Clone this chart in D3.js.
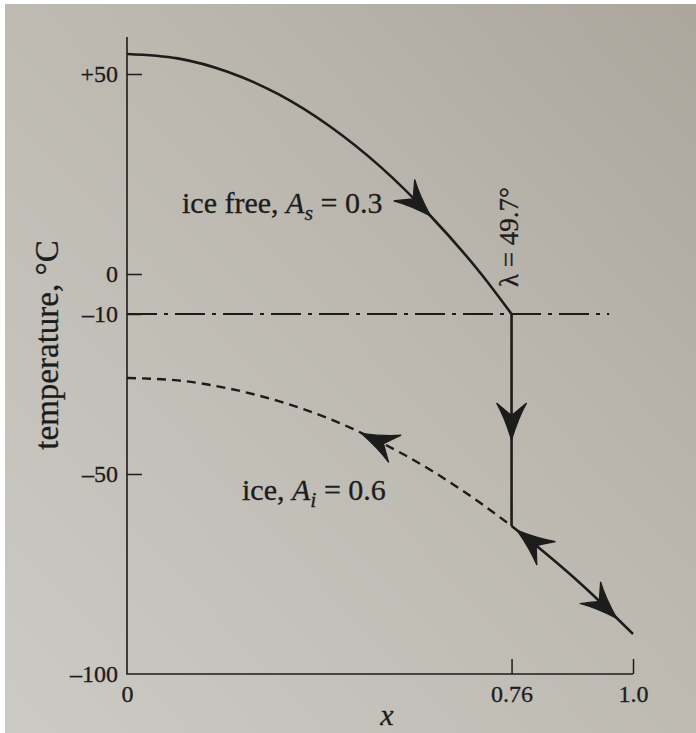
<!DOCTYPE html>
<html>
<head>
<meta charset="utf-8">
<script src="https://cdn.jsdelivr.net/npm/d3@7"></script>
<style>
body{margin:0;padding:0;background:#fff;}
svg text{font-family:"Liberation Serif",serif;fill:#1c1c1c;stroke:#1c1c1c;stroke-width:0.3px;}
</style>
</head>
<body>
<svg id="chart" width="696" height="733"></svg>
<script>
// temperature profiles (x = sin of latitude, T in deg C)
const freeX = [0, 0.1, 0.2, 0.3, 0.4, 0.5, 0.6, 0.7, 0.76];
const freeT = [55, 53.9, 50.5, 44.9, 37, 26.9, 14.5, 0, -10];
const iceX = [0, 0.1, 0.2, 0.3, 0.4, 0.5, 0.6, 0.7, 0.76, 0.8, 0.9, 1.0];
const iceT = [-26, -26.6, -28.6, -31.8, -36.2, -42, -49, -57.4, -63, -67, -77.8, -90];
const iceLineT = -10;
const iceLineEnd = 0.953;
const edgeX = 0.76;
const yTicks = [50, 0, -10, -50, -100];
const xTicks = [0, 0.76, 1.0];
// arrow tips along the curves
const arrowCurve = ['free', 'ice', 'ice', 'ice'];
const arrowX = [0.60, 0.463, 0.771, 0.968];
const arrowDir = [1, -1, -1, 1];
const jumpArrowT = -41.5;

var svg = d3.select('#chart');
var ink = '#1c1c1c';
var serif = '"Liberation Serif", serif';

// paper
var defs = svg.append('defs');
var grad = defs.append('linearGradient').attr('id', 'paper')
    .attr('x1', '100%').attr('y1', '0%').attr('x2', '0%').attr('y2', '100%');
grad.append('stop').attr('offset', '0%').attr('stop-color', '#aca69d');
grad.append('stop').attr('offset', '45%').attr('stop-color', '#bdb9b1');
grad.append('stop').attr('offset', '100%').attr('stop-color', '#cbcac4');
svg.append('rect').attr('x', 5).attr('y', 4).attr('width', 691).attr('height', 729)
    .attr('fill', 'url(#paper)');

var x = d3.scaleLinear().domain([0, 1]).range([127, 633]);
var y = d3.scaleLinear().domain([-100, 50]).range([674, 74]);

function interp(xs, ts, v) {
    var i = d3.bisectRight(xs, v) - 1;
    i = Math.max(0, Math.min(xs.length - 2, i));
    var t = (v - xs[i]) / (xs[i + 1] - xs[i]);
    return ts[i] + t * (ts[i + 1] - ts[i]);
}

// axes
var yAxis = d3.axisLeft(y).tickValues(yTicks).tickSizeInner(-15).tickSizeOuter(0).tickPadding(9)
    .tickFormat(function(d){ return d > 0 ? '+' + d : (d < 0 ? '\u2013' + (-d) : '0'); });
var gy = svg.append('g').attr('transform', 'translate(' + x(0) + ',0)').call(yAxis)
    .attr('font-family', serif);
gy.select('.domain').remove();
gy.selectAll('line').attr('stroke', ink).attr('stroke-width', 1.5)
    .attr('display', function(d){ return d == -100 ? 'none' : null; });
gy.selectAll('text').attr('font-size', 24).attr('fill', ink).style('font-family', serif);

var xAxis = d3.axisBottom(x).tickValues(xTicks).tickSizeInner(-15).tickSizeOuter(0).tickPadding(11)
    .tickFormat(function(d){ return d == 0 ? '0' : (d == 1 ? '1.0' : String(d)); });
var gx = svg.append('g').attr('transform', 'translate(0,' + y(-100) + ')').call(xAxis)
    .attr('font-family', serif);
gx.select('.domain').remove();
gx.selectAll('line').attr('stroke', ink).attr('stroke-width', 1.5)
    .attr('display', function(d){ return d == 0 ? 'none' : null; });
gx.selectAll('text').attr('font-size', 24).attr('fill', ink).style('font-family', serif);

svg.append('path')
    .attr('d', 'M' + x(0) + ',37 L' + x(0) + ',' + y(-100) + ' L' + x(1) + ',' + y(-100))
    .attr('fill', 'none').attr('stroke', ink).attr('stroke-width', 1.6);

// ice line -10
svg.append('line')
    .attr('x1', x(0)).attr('x2', x(iceLineEnd))
    .attr('y1', y(iceLineT)).attr('y2', y(iceLineT))
    .attr('stroke', ink).attr('stroke-width', 2.2)
    .attr('stroke-dasharray', '30 7 4 7');

var line = d3.line().x(function(d){ return x(d[0]); }).y(function(d){ return y(d[1]); })
    .curve(d3.curveMonotoneX);

var freePts = freeX.map(function(v, i){ return [v, freeT[i]]; });
var icePts = iceX.map(function(v, i){ return [v, iceT[i]]; });

svg.append('path').attr('d', line(freePts))
    .attr('fill', 'none').attr('stroke', ink).attr('stroke-width', 2.6);
svg.append('path').attr('d', line(icePts.filter(function(p){ return p[0] <= edgeX; })))
    .attr('fill', 'none').attr('stroke', ink).attr('stroke-width', 2.4)
    .attr('stroke-dasharray', '9 6');
svg.append('path').attr('d', line(icePts.filter(function(p){ return p[0] >= edgeX; })))
    .attr('fill', 'none').attr('stroke', ink).attr('stroke-width', 2.6);

// jump at the ice edge
var iceAtEdge = interp(iceX, iceT, edgeX);
svg.append('line')
    .attr('x1', x(edgeX)).attr('x2', x(edgeX))
    .attr('y1', y(iceLineT)).attr('y2', y(iceAtEdge))
    .attr('stroke', ink).attr('stroke-width', 2.6);

// arrowheads
var L = 37, W = 15;
var head = 'M0,0 Q' + (-0.6 * L) + ',' + (-0.45 * W) + ' ' + (-L) + ',' + (-W) +
    ' Q' + (-0.76 * L) + ',' + (-0.3 * W) + ' ' + (-0.66 * L) + ',0' +
    ' Q' + (-0.76 * L) + ',' + (0.3 * W) + ' ' + (-L) + ',' + W +
    ' Q' + (-0.6 * L) + ',' + (0.45 * W) + ' 0,0 Z';

function drawHead(px, py, ang) {
    svg.append('path').attr('d', head)
        .attr('transform', 'translate(' + px + ',' + py + ') rotate(' + ang + ')')
        .attr('fill', ink).attr('stroke', ink).attr('stroke-width', 1.2);
}

arrowX.forEach(function(v, i) {
    var xs = arrowCurve[i] == 'free' ? freeX : iceX;
    var ts = arrowCurve[i] == 'free' ? freeT : iceT;
    var d = arrowDir[i] * 0.01;
    var x0 = x(v - d), y0 = y(interp(xs, ts, v - d));
    var px = x(v), py = y(interp(xs, ts, v));
    var ang = Math.atan2(py - y0, px - x0) * 180 / Math.PI;
    drawHead(px, py, ang);
});
drawHead(x(edgeX), y(jumpArrowT), 90);

// labels
var lab1 = svg.append('text').attr('x', 182).attr('y', 213).attr('font-size', 30).style('font-family', serif);
lab1.append('tspan').text('ice free, ');
lab1.append('tspan').attr('font-style', 'italic').text('A');
lab1.append('tspan').attr('font-style', 'italic').attr('font-size', 22).attr('dy', 7).text('s');
lab1.append('tspan').attr('dy', -7).text(' = 0.3');

var lab2 = svg.append('text').attr('x', 242).attr('y', 500).attr('font-size', 30).style('font-family', serif);
lab2.append('tspan').text('ice, ');
lab2.append('tspan').attr('font-style', 'italic').text('A');
lab2.append('tspan').attr('font-style', 'italic').attr('font-size', 22).attr('dy', 7).text('i');
lab2.append('tspan').attr('dy', -7).text(' = 0.6');

svg.append('text')
    .attr('transform', 'translate(' + (x(edgeX) + 6) + ',287) rotate(-90)')
    .attr('font-size', 27).style('font-family', serif).text('\u03bb = 49.7\u00b0');

svg.append('text')
    .attr('transform', 'translate(58,345) rotate(-90)')
    .attr('text-anchor', 'middle').attr('font-size', 33).style('font-family', serif)
    .text('temperature, \u00b0C');

svg.append('text').attr('x', 387).attr('y', 725).attr('text-anchor', 'middle')
    .attr('font-size', 30).attr('font-style', 'italic').style('font-family', serif).text('x');
</script>
</body>
</html>
